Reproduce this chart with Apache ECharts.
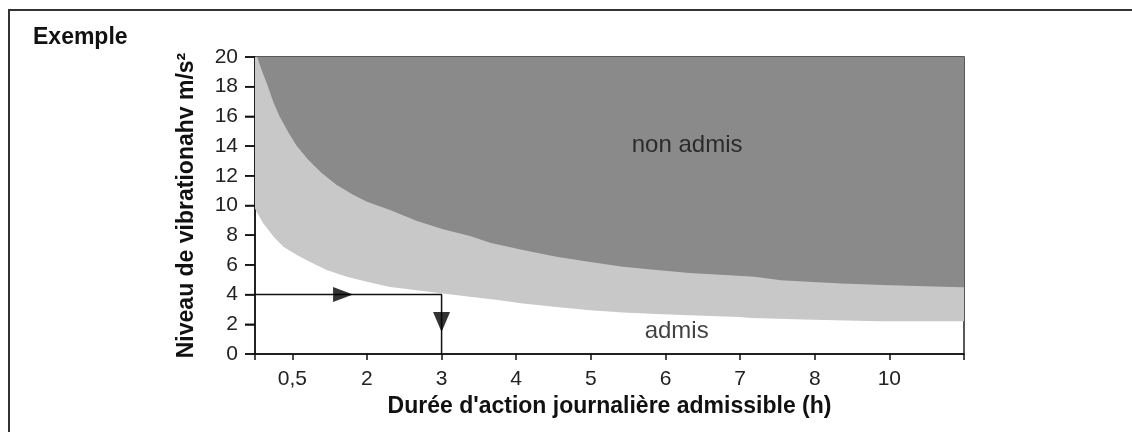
<!DOCTYPE html>
<html lang="fr">
  <head>
    <meta charset="UTF-8" />
    <title>Exemple</title>
    <script src="https://cdn.jsdelivr.net/npm/echarts@6.0.0/dist/echarts.min.js"></script>
    <style>
      html, body { margin: 0; padding: 0; background: #fff; }
    </style>
  </head>
  <body>
    <div id="main" style="width: 1132px; height: 432px"></div>
    <script type="text/javascript">
      // axe x : positions régulières, libellés non linéaires
      var xLabels = ["0,5", "2", "3", "4", "5", "6", "7", "8", "10"];
      var xLabelPos = [0, 1, 2, 3, 4, 5, 6, 7, 8];
      var xTickPos = [-0.5, 0, 1, 2, 3, 4, 5, 6, 7, 8, 9];
      var yTickPos = [0, 2, 4, 6, 8, 10, 12, 14, 16, 18, 20];

      // limite haute (zone non admise)
      var darkX = [-0.47, -0.41, -0.34, -0.25, -0.17, -0.05, 0.06, 0.21, 0.39, 0.59, 0.82, 1.0, 1.31, 1.67, 2.02, 2.38, 2.65, 3.09, 3.54, 3.99, 4.43, 4.88, 5.32, 5.86, 6.19, 6.55, 6.91, 7.36, 7.91, 8.83, 9.0];
      var darkY = [20, 19.1, 18.2, 16.9, 16.0, 14.9, 14.0, 13.1, 12.2, 11.4, 10.7, 10.25, 9.7, 8.95, 8.4, 7.95, 7.5, 7.0, 6.55, 6.2, 5.87, 5.65, 5.45, 5.3, 5.2, 4.97, 4.86, 4.75, 4.64, 4.52, 4.5];

      // limite basse (zone admise)
      var lightX = [-0.5, -0.48, -0.39, -0.25, -0.12, 0.06, 0.24, 0.46, 0.73, 1.0, 1.31, 1.67, 2.02, 2.38, 2.78, 3.09, 3.54, 3.99, 4.43, 4.88, 5.32, 5.99, 6.15, 6.86, 7.85, 9.0];
      var lightY = [9.8, 9.6, 8.8, 7.9, 7.22, 6.66, 6.2, 5.65, 5.2, 4.86, 4.52, 4.3, 4.08, 3.85, 3.62, 3.4, 3.17, 2.95, 2.79, 2.7, 2.61, 2.5, 2.43, 2.32, 2.2, 2.2];

      // exemple de lecture : 4 m/s² -> 3 h
      var pathX = [-0.5, 2, 2];
      var pathY = [4, 4, 0];
      var arrowRight = [0.68, 4];
      var arrowDown = [2, 2.16];

      var zoneLabels = [
        { name: "non admis", value: [5.29, 14.08] },
        { name: "admis", value: [5.15, 1.55] },
      ];

      function pairs(xs, ys) {
        return xs.map(function (x, i) {
          return [x, ys[i]];
        });
      }

      var myChart = echarts.init(document.getElementById("main"));

      var font = "'Liberation Sans', Arial, sans-serif";
      var tickStyle = { color: "#111", width: 1.5 };

      var option = {
        animation: false,
        textStyle: { fontFamily: font },
        graphic: [
          {
            type: "rect",
            shape: { x: 9, y: 10, width: 1300, height: 600 },
            style: { fill: null, stroke: "#333", lineWidth: 2 },
            z: 100,
          },
          {
            type: "text",
            left: 33,
            top: 26,
            style: {
              text: "Exemple",
              font: "bold 23px " + font,
              fill: "#111",
            },
          },
        ],
        grid: {
          left: 255,
          right: 168,
          top: 57,
          bottom: 78,
          show: true,
          borderColor: "#222",
          borderWidth: 1.5,
          outerBoundsMode: "none",
          containLabel: false,
        },
        xAxis: {
          type: "value",
          min: -0.5,
          max: 9,
          name: "Durée d'action journalière admissible (h)",
          nameLocation: "middle",
          nameGap: 37,
          nameTextStyle: { fontSize: 23, fontWeight: "bold", color: "#111" },
          axisLine: { onZero: false, lineStyle: tickStyle },
          axisTick: { customValues: xTickPos, length: 6, lineStyle: tickStyle },
          axisLabel: {
            customValues: xLabelPos,
            margin: 15,
            fontSize: 21,
            color: "#222",
            formatter: function (v) {
              return xLabels[Math.round(v)];
            },
          },
          splitLine: { show: false },
        },
        yAxis: {
          type: "value",
          min: 0,
          max: 20,
          interval: 2,
          name: "Niveau de vibrationahv m/s²",
          nameLocation: "middle",
          nameGap: 57,
          nameTextStyle: { fontSize: 23, fontWeight: "bold", color: "#111" },
          axisLine: { show: true, onZero: false, lineStyle: tickStyle },
          axisTick: { show: true, inside: false, length: 10, lineStyle: tickStyle },
          axisLabel: { margin: 17, fontSize: 21, color: "#222" },
          splitLine: { show: false },
        },
        series: [
          {
            type: "line",
            data: pairs(lightX, lightY),
            showSymbol: false,
            lineStyle: { width: 0 },
            areaStyle: { color: "#c8c8c8", opacity: 1, origin: "end" },
            z: 1,
          },
          {
            type: "line",
            data: pairs(darkX, darkY),
            showSymbol: false,
            lineStyle: { width: 0 },
            areaStyle: { color: "#8a8a8a", opacity: 1, origin: "end" },
            z: 2,
          },
          {
            type: "line",
            data: pairs(pathX, pathY),
            showSymbol: false,
            lineStyle: { color: "#111", width: 1.5 },
            z: 3,
          },
          {
            type: "scatter",
            data: [arrowRight],
            symbol: "triangle",
            symbolSize: [15, 20],
            symbolRotate: -90,
            itemStyle: { color: "#000" },
            z: 4,
          },
          {
            type: "scatter",
            data: [arrowDown],
            symbol: "triangle",
            symbolSize: [17, 20],
            symbolRotate: 180,
            itemStyle: { color: "#000" },
            z: 4,
          },
          {
            type: "scatter",
            data: zoneLabels,
            symbolSize: 1,
            itemStyle: { color: "rgba(0,0,0,0)" },
            label: {
              show: true,
              position: "inside",
              formatter: "{b}",
              fontSize: 24,
              color: "#111",
            },
            z: 5,
          },
          {
            // graduations de l'axe y, tracées à gauche de l'axe
            type: "custom",
            clip: false,
            silent: true,
            data: yTickPos.map(function (v) {
              return [-0.5, v];
            }),
            encode: { x: 0, y: 1 },
            renderItem: function (params, api) {
              var p = api.coord([api.value(0), api.value(1)]);
              return {
                type: "line",
                shape: { x1: p[0] - 10, y1: p[1], x2: p[0], y2: p[1] },
                style: { stroke: "#111", lineWidth: 1.5 },
              };
            },
            z: 6,
          },
        ],
      };

      myChart.setOption(option);
    </script>
  </body>
</html>
